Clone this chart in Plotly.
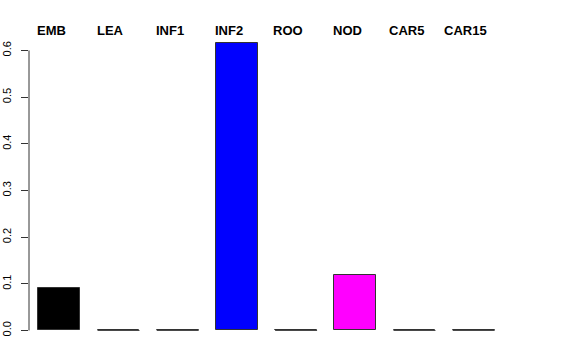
import plotly.graph_objects as go

categories = ["EMB", "LEA", "INF1", "INF2", "ROO", "NOD", "CAR5", "CAR15"]
values = [0.0915, 0.0, 0.0, 0.617, 0.0, 0.119, 0.0, 0.0]
colors = ["#000000", "#FF0000", "#00CD00", "#0000FF", "#00FFFF", "#FF00FF", "#FFFF00", "#BEBEBE"]
y_ticks = [0.0, 0.1, 0.2, 0.3, 0.4, 0.5, 0.6]
y_ticklabels = ["0.0", "0.1", "0.2", "0.3", "0.4", "0.5", "0.6"]

bar_width = 0.709
xpos = list(range(len(categories)))

fig = go.Figure()
fig.add_trace(go.Bar(
    x=xpos, y=values, width=bar_width,
    marker=dict(color=colors, line=dict(color="#333333", width=1)),
    showlegend=False, hoverinfo="skip",
))

# zero-height bars drawn as flat outlines (plotly hides zero bars)
zx, zy = [], []
for xi, v in zip(xpos, values):
    if v == 0:
        zx += [xi - bar_width / 2, xi + bar_width / 2, None]
        zy += [v, v, None]
fig.add_trace(go.Scatter(x=zx, y=zy, mode="lines",
                         line=dict(color="#444444", width=1),
                         showlegend=False, hoverinfo="skip"))

for xi, c in zip(xpos, categories):
    fig.add_annotation(x=xi, y=1, xref="x", yref="paper", text="<b>" + c + "</b>",
                       showarrow=False, xanchor="center", yanchor="middle",
                       xshift=-8, yshift=1,
                       font=dict(family="Liberation Sans", size=13, color="black"))

vmax = max(values)
fig.add_shape(type="line", xref="paper", yref="y", x0=0, x1=0,
              y0=min(y_ticks), y1=max(y_ticks), line=dict(color="#333333", width=1))

fig.update_layout(
    width=576, height=360,
    margin=dict(l=29, r=72, t=31, b=18),
    paper_bgcolor="white", plot_bgcolor="white",
    font=dict(family="Liberation Sans", color="black"),
    bargap=0,
    xaxis=dict(range=[-0.512, 7.512], showgrid=False, zeroline=False,
               showticklabels=False, ticks="", showline=False, automargin=False),
    yaxis=dict(range=[-0.04 * vmax, 1.04 * vmax], showgrid=False, zeroline=False,
               showline=False, tickmode="array", tickvals=y_ticks,
               ticktext=y_ticklabels, ticks="outside", ticklen=7,
               tickcolor="#333333", tickwidth=1, tickangle=-90,
               automargin=False, ticklabelstandoff=6,
               tickfont=dict(size=11, family="Liberation Sans", color="black")),
)

fig.write_html("out.html")
